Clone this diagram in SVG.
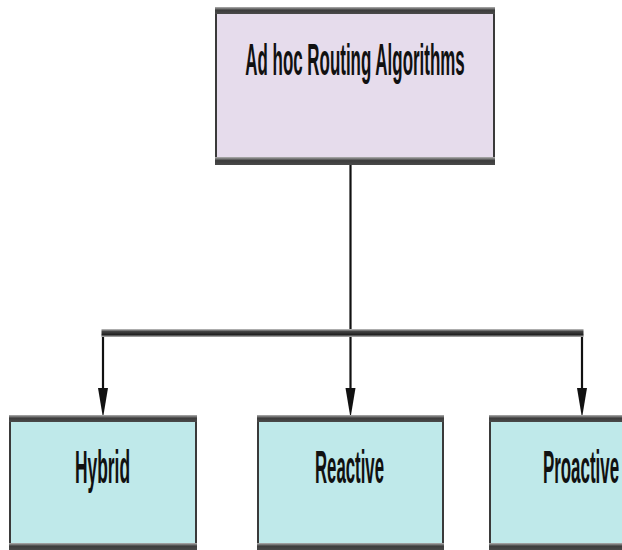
<svg xmlns="http://www.w3.org/2000/svg" width="622" height="550" viewBox="0 0 622 550">
  <defs>
    <linearGradient id="band" x1="0" y1="0" x2="0" y2="1">
      <stop offset="0" stop-color="#b0b0b0"/>
      <stop offset="0.45" stop-color="#3c3c3c"/>
      <stop offset="1" stop-color="#4a4a4a"/>
    </linearGradient>
    <linearGradient id="bar" x1="0" y1="0" x2="0" y2="1">
      <stop offset="0" stop-color="#c8c8c8"/>
      <stop offset="0.3" stop-color="#444"/>
      <stop offset="0.7" stop-color="#222"/>
      <stop offset="1" stop-color="#bbb"/>
    </linearGradient>
    <path id="head" d="M-5,0 L5,0 L0,30 Z" fill="#111"/>
  </defs>
  <style>
    .root { fill: #e6dcec; stroke: #3a3a3a; stroke-width: 2; }
    .leaf { fill: #bfe9ea; stroke: #3a3a3a; stroke-width: 2; }
    .label { font-family: "Liberation Sans", Arial, sans-serif; font-weight: bold; fill: #111; text-anchor: middle; }
    .wire { stroke: #111; stroke-width: 2.2; fill: none; }
  </style>
  <rect width="622" height="550" fill="#ffffff"/>

  <g id="connectors">
    <line class="wire" x1="350.5" y1="164" x2="350.5" y2="388"/>
    <use href="#head" x="350.5" y="388"/>
    <line class="wire" x1="103" y1="334" x2="103" y2="388"/>
    <use href="#head" x="103" y="388"/>
    <line class="wire" x1="582" y1="334" x2="582" y2="388"/>
    <use href="#head" x="582" y="388"/>
    <rect x="101.5" y="329" width="482" height="8" fill="url(#bar)"/>
  </g>

  <g id="node-root">
    <rect class="root" x="216" y="10" width="278" height="152"/>
    <rect x="215" y="7" width="280" height="7" fill="url(#band)"/>
    <rect x="215" y="157" width="280" height="8" fill="url(#band)"/>
    <text class="label" font-size="44" transform="translate(355,75) scale(0.385,1)">Ad hoc Routing Algorithms</text>
  </g>

  <g id="node-hybrid">
    <rect class="leaf" x="10" y="418" width="186" height="136"/>
    <rect x="9" y="415" width="188" height="7" fill="url(#band)"/>
    <rect x="9" y="543" width="188" height="7" fill="url(#band)"/>
    <text class="label" font-size="47" transform="translate(102.5,483) scale(0.37,1)">Hybrid</text>
  </g>

  <g id="node-reactive">
    <rect class="leaf" x="258" y="418" width="185" height="136"/>
    <rect x="257" y="415" width="187" height="7" fill="url(#band)"/>
    <rect x="257" y="543" width="187" height="7" fill="url(#band)"/>
    <text class="label" font-size="47" transform="translate(349.5,483) scale(0.357,1)">Reactive</text>
  </g>

  <g id="node-proactive">
    <rect class="leaf" x="490" y="418" width="190" height="136"/>
    <rect x="489" y="415" width="140" height="7" fill="url(#band)"/>
    <rect x="489" y="543" width="140" height="7" fill="url(#band)"/>
    <text class="label" font-size="47" transform="translate(581,483) scale(0.36,1)">Proactive</text>
  </g>
</svg>
